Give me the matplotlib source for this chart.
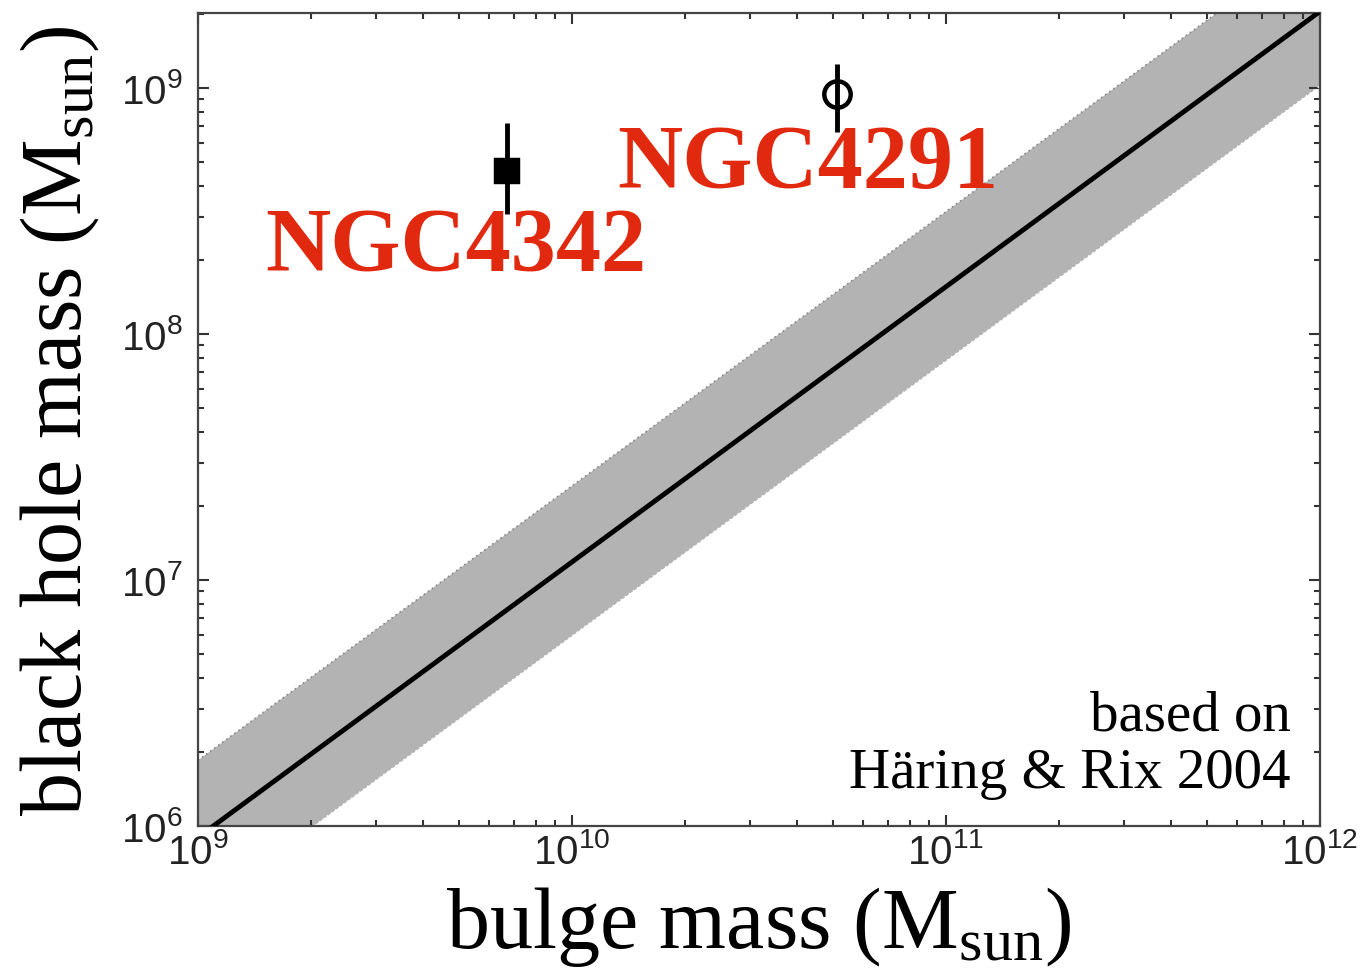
import numpy as np
import matplotlib
matplotlib.use("Agg")
import matplotlib.pyplot as plt
from matplotlib.ticker import LogLocator, FuncFormatter, NullFormatter

plt.rcParams['font.family'] = ['Liberation Serif', 'DejaVu Serif']
plt.rcParams['mathtext.fontset'] = 'custom'
plt.rcParams['mathtext.rm'] = 'Liberation Serif'
plt.rcParams['mathtext.sf'] = 'Liberation Sans'
plt.rcParams['mathtext.it'] = 'Liberation Serif:italic'
plt.rcParams['mathtext.bf'] = 'Liberation Serif:bold'

# ---- data ----
fit_x = [1e9, 1e12]
fit_y = [9.0e5, 2.05e9]
band_upper = [1.85e6, 4.1e9]
band_lower = [4.5e5, 1.02e9]

galaxies = ["NGC4342", "NGC4291"]
gal_bulge = [6.7e9, 5.1e10]
gal_bh = [4.6e8, 9.45e8]
gal_bh_lo = [3.08e8, 6.62e8]
gal_bh_hi = [7.21e8, 1.25e9]
gal_marker = ["s", "o"]
gal_fill = ["black", "none"]

xlim = (1e9, 1e12)
ylim = (1e6, 2.02e9)

red = '#e1290f'

fig = plt.figure(figsize=(13.64, 9.70), dpi=100)
ax = fig.add_axes([198/1364, 1-827/970, (1320-198)/1364, (827-14)/970])
ax.set_xscale('log')
ax.set_yscale('log')

ax.fill_between(fit_x, band_lower, band_upper, color='#b3b3b3', lw=0, zorder=1)
ax.plot(fit_x, band_upper, ls=(0, (1, 2)), color='#888888', lw=1.2, zorder=2)
ax.plot(fit_x, band_lower, ls=(0, (1, 2)), color='white', lw=1.2, zorder=2)
ax.plot(fit_x, fit_y, color='black', lw=3.5, zorder=3, solid_capstyle='butt')

for i in range(len(galaxies)):
    yerr = [[gal_bh[i] - gal_bh_lo[i]], [gal_bh_hi[i] - gal_bh[i]]]
    ax.errorbar([gal_bulge[i]], [gal_bh[i]], yerr=yerr, fmt=gal_marker[i],
                mfc=gal_fill[i], mec='black', ecolor='black',
                ms=16 if gal_marker[i] == 's' else 19, mew=3.2, elinewidth=3.5,
                capsize=0, zorder=4)

ax.set_xlim(*xlim)
ax.set_ylim(*ylim)

def fmt(v, pos):
    e = int(round(np.log10(v)))
    return r'$\mathsf{10^{%d}}$' % e

ax.xaxis.set_major_locator(LogLocator(base=10, numticks=10))
ax.yaxis.set_major_locator(LogLocator(base=10, numticks=10))
ax.xaxis.set_minor_locator(LogLocator(base=10, subs=np.arange(2, 10), numticks=20))
ax.yaxis.set_minor_locator(LogLocator(base=10, subs=np.arange(2, 10), numticks=20))
ax.xaxis.set_major_formatter(FuncFormatter(fmt))
ax.yaxis.set_major_formatter(FuncFormatter(fmt))
ax.xaxis.set_minor_formatter(NullFormatter())
ax.yaxis.set_minor_formatter(NullFormatter())

ax.tick_params(which='both', direction='in', top=True, right=True,
               color='#333333', width=1.5, labelcolor='#222222', labelsize=29)
ax.tick_params(which='major', length=8)
ax.tick_params(which='minor', length=4.3)
ax.tick_params(axis='x', pad=5)
ax.tick_params(axis='y', pad=11)
for s in ax.spines.values():
    s.set_color('#444444')
    s.set_linewidth(1.6)

ax.set_xlabel(r'bulge mass (M$_{\rm sun}$)', fontsize=62, labelpad=9)
ax.set_ylabel(r'black hole mass (M$_{\rm sun}$)', fontsize=62, labelpad=14)

ax.text(0.0597, 0.685, galaxies[0], transform=ax.transAxes, color=red,
        fontsize=65, fontweight='bold', ha='left', va='baseline', zorder=5)
ax.text(0.374, 0.786, galaxies[1], transform=ax.transAxes, color=red,
        fontsize=65, fontweight='bold', ha='left', va='baseline', zorder=5)

ax.text(0.974, 0.119, 'based on', transform=ax.transAxes, fontsize=41,
        ha='right', va='baseline', zorder=5)
ax.text(0.974, 0.048, 'Häring & Rix 2004', transform=ax.transAxes, fontsize=41,
        ha='right', va='baseline', zorder=5)

fig.savefig('out.png', dpi=100)
